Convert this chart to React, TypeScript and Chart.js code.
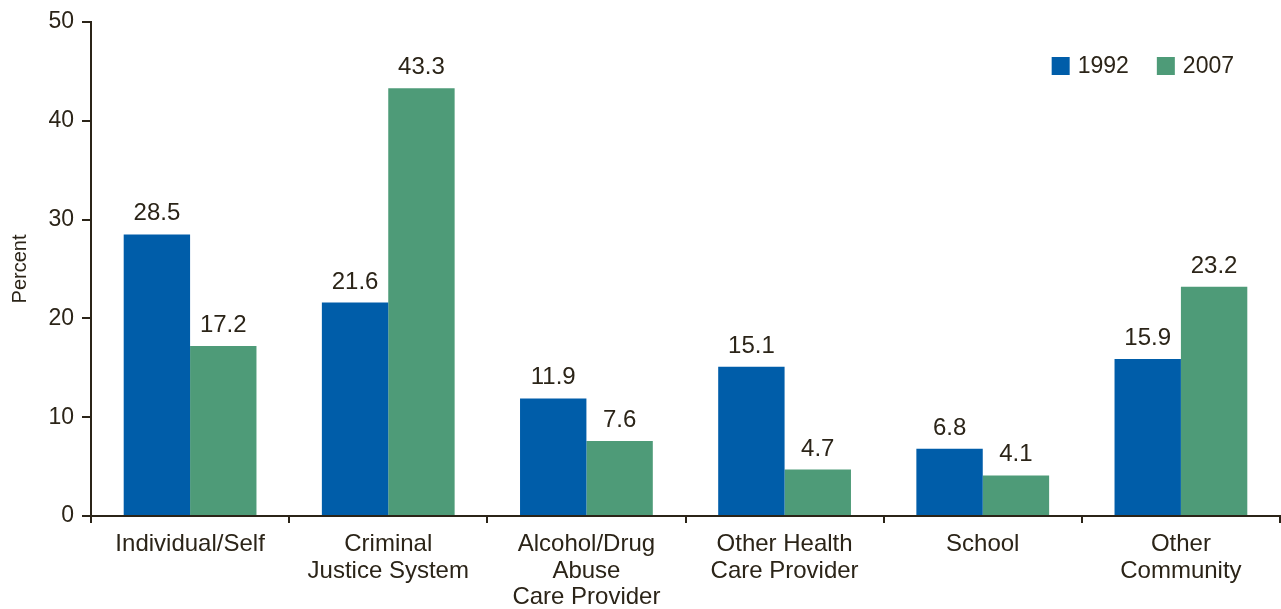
import React, { useEffect, useRef } from "react";
import { Chart, registerables } from "chart.js";

Chart.register(...registerables);

const categories: string[][] = [
  ["Individual/Self"],
  ["Criminal", "Justice System"],
  ["Alcohol/Drug", "Abuse", "Care Provider"],
  ["Other Health", "Care Provider"],
  ["School"],
  ["Other", "Community"],
];
const values1992 = [28.5, 21.6, 11.9, 15.1, 6.8, 15.9];
const values2007 = [17.2, 43.3, 7.6, 4.7, 4.1, 23.2];
const seriesNames = ["1992", "2007"];
const yTicks = [0, 10, 20, 30, 40, 50];

const BLUE = "#005DA9";
const GREEN = "#4E9B78";
const INK = "#2B2418";
const FONT = "'Liberation Sans', Arial, Helvetica, sans-serif";

const valueLabels = {
  id: "valueLabels",
  afterDatasetsDraw(chart: any) {
    const ctx = chart.ctx;
    ctx.save();
    ctx.fillStyle = INK;
    ctx.font = `24px ${FONT}`;
    ctx.textAlign = "center";
    ctx.textBaseline = "alphabetic";
    chart.data.datasets.forEach((ds: any, di: number) => {
      const meta = chart.getDatasetMeta(di);
      meta.data.forEach((bar: any, i: number) => {
        ctx.fillText(ds.data[i].toFixed(1), bar.x, bar.y - 14);
      });
    });
    ctx.restore();
  },
};

const customLegend = {
  id: "customLegend",
  afterDraw(chart: any) {
    const ctx = chart.ctx;
    ctx.save();
    ctx.font = `23px ${FONT}`;
    ctx.textBaseline = "middle";
    ctx.textAlign = "left";
    const box = 18;
    const gap = 8;
    const itemGap = 28;
    const items = chart.data.datasets.map((ds: any) => ({
      label: ds.label,
      color: ds.backgroundColor,
      w: ctx.measureText(ds.label).width,
    }));
    const total = items.reduce((s: number, it: any) => s + box + gap + it.w, 0) + itemGap * (items.length - 1);
    let x = chart.chartArea.right - 46 - total;
    const cy = chart.chartArea.top + 44;
    items.forEach((it: any) => {
      ctx.fillStyle = it.color;
      ctx.fillRect(x, cy - box / 2, box, box);
      ctx.fillStyle = INK;
      ctx.fillText(it.label, x + box + gap, cy + 1);
      x += box + gap + it.w + itemGap;
    });
    ctx.restore();
  },
};

export default function App() {
  const ref = useRef<HTMLCanvasElement>(null);
  useEffect(() => {
    document.body.style.margin = "0";
    const chart = new Chart(ref.current!, {
      type: "bar",
      data: {
        labels: categories,
        datasets: [
          { label: seriesNames[0], data: values1992, backgroundColor: BLUE },
          { label: seriesNames[1], data: values2007, backgroundColor: GREEN },
        ],
      },
      options: {
        animation: false,
        responsive: false,
        devicePixelRatio: 1,
        layout: { padding: { top: 22, right: 1, left: 0, bottom: 0 } },
        datasets: { bar: { categoryPercentage: 0.67, barPercentage: 1 } },
        plugins: {
          tooltip: { enabled: false },
          legend: { display: false },
        },
        scales: {
          x: {
            grid: {
              display: true,
              drawOnChartArea: false,
              offset: true,
              color: INK,
              lineWidth: 2,
              tickLength: 7,
            },
            border: { display: true, color: INK, width: 2 },
            ticks: { color: INK, font: { family: FONT, size: 24, lineHeight: 1.11 }, padding: 8, maxRotation: 0, autoSkip: false },
            afterFit: (s: any) => { s.height = 93; },
          },
          y: {
            min: 0,
            max: 50,
            afterBuildTicks: (s: any) => { s.ticks = yTicks.map((v) => ({ value: v })); },
            grid: { display: true, drawOnChartArea: false, color: INK, lineWidth: 2, tickLength: 9 },
            border: { display: true, color: INK, width: 2 },
            ticks: { color: INK, font: { family: FONT, size: 23 }, padding: 8 },
            title: { display: true, text: "Percent", color: INK, font: { family: FONT, size: 20 }, padding: { top: 8, bottom: 0 } },
            afterFit: (s: any) => { s.width = 91; },
          },
        },
      },
      plugins: [valueLabels, customLegend],
    });
    return () => chart.destroy();
  }, []);
  return <canvas ref={ref} width={1281} height={609} style={{ display: "block" }} />;
}
